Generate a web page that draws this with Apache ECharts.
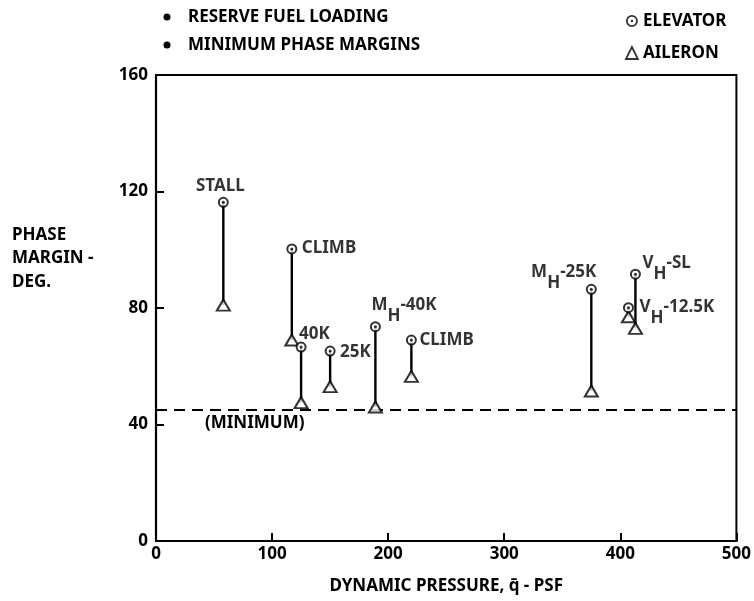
<!DOCTYPE html>
<html>
<head>
<meta charset="utf-8">
<script src="https://cdn.jsdelivr.net/npm/echarts@6/dist/echarts.min.js"></script>
<style>html,body{margin:0;padding:0;background:#fff}#c{width:754px;height:601px}</style>
</head>
<body>
<div id="c"></div>
<script>
// ---- data ----
const caseLabels = ['{p|STALL}', '{p|CLIMB}', '{p|40K}', '{p|25K}', '{t|M}{s|H}{t|-40K}', '{p|CLIMB}', '{t|M}{s|H}{t|-25K}', '{t|V}{s|H}{t|-SL}', '{t|V}{s|H}{t|-12.5K}'];
const dynamicPressure = [58, 117, 125, 150, 189, 220, 375, 413, 407];
const elevatorMargin = [116.3, 100.3, 66.6, 65.2, 73.6, 69.0, 86.4, 91.6, 80.1];
const aileronMargin = [81, 69, 47.5, 53, 46, 56.5, 51.5, 73, 77];
const minimumMargin = 45;
const xRange = [0, 500];
const yRange = [0, 160];
const xStep = 100;
const yStep = 40;
const notes = ['RESERVE FUEL LOADING', 'MINIMUM PHASE MARGINS'];
const seriesNames = ['ELEVATOR', 'AILERON'];
const minimumText = '(MINIMUM)';
const xTitle = 'DYNAMIC PRESSURE, q\u0304 - PSF';
const yTitle = 'PHASE\nMARGIN -\nDEG.';

// ---- styling / layout ----
const FONT = '"Noto Sans", "Open Sans", sans-serif';
const INK = '#000';
const FS = 17;
const labelPlace = [
  {align: 'center', offset: [-3, -16]},
  {align: 'left', offset: [10, -1]},
  {align: 'left', offset: [-2, -13]},
  {align: 'left', offset: [10, 1]},
  {align: 'left', offset: [-4, -15.5]},
  {align: 'left', offset: [8, 0]},
  {align: 'right', offset: [5, -11.5]},
  {align: 'left', offset: [7, -5.5]},
  {align: 'left', offset: [11, 4.5]}
];
const minimumLabelAt = 85;
const ringPath = 'path://M10 0 A10 10 0 1 1 9.99 0 Z M10 3 A7 7 0 1 0 10.01 3 Z M10 8 A2 2 0 1 1 9.99 8 Z';

const baseText = {fontFamily: FONT, fontSize: FS, fontWeight: 'bold', color: INK, textBorderWidth: 0, textShadowBlur: 0};
const rich = {
  p: Object.assign({}, baseText, {lineHeight: 16}),
  t: Object.assign({}, baseText, {lineHeight: 16, padding: [0, 0, 11, 0]}),
  s: Object.assign({}, baseText, {lineHeight: 16, padding: [11, 0, 0, 0]})
};

const chart = echarts.init(document.getElementById('c'), null, {renderer: 'canvas'});

const elevatorData = dynamicPressure.map((q, i) => ({
  value: [q, elevatorMargin[i]],
  label: Object.assign({}, baseText, {
    show: true,
    position: 'inside',
    formatter: caseLabels[i],
    align: labelPlace[i].align,
    verticalAlign: 'middle',
    offset: labelPlace[i].offset,
    rich: rich
  })
}));

const option = {
  animation: false,
  backgroundColor: '#fff',
  textStyle: {fontFamily: FONT},
  grid: {left: 156, right: 14, top: 75, bottom: 60, show: true, borderColor: INK, borderWidth: 2, backgroundColor: 'transparent'},
  legend: {
    orient: 'vertical',
    left: 620,
    top: 7,
    itemWidth: 12,
    itemHeight: 12,
    itemGap: 14,
    selectedMode: false,
    textStyle: {fontFamily: FONT, fontSize: FS, fontWeight: 'bold', color: INK, lineHeight: 18},
    data: [
      {name: seriesNames[0], icon: ringPath, itemStyle: {color: INK, borderWidth: 0}},
      {name: seriesNames[1], icon: 'triangle', itemStyle: {color: '#fff', borderColor: INK, borderWidth: 1.8}}
    ]
  },
  xAxis: {
    type: 'value',
    min: xRange[0], max: xRange[1], interval: xStep,
    name: xTitle,
    nameLocation: 'middle',
    nameGap: 37,
    nameTextStyle: {fontFamily: FONT, fontSize: FS, fontWeight: 'bold', color: INK},
    axisLine: {show: true, lineStyle: {color: INK, width: 2.2}},
    axisTick: {show: true, inside: true, length: 8, lineStyle: {color: INK, width: 2}},
    axisLabel: {fontFamily: FONT, fontSize: FS, fontWeight: 'bold', color: INK, margin: 5},
    splitLine: {show: false}
  },
  yAxis: {
    type: 'value',
    min: yRange[0], max: yRange[1], interval: yStep,
    axisLine: {show: true, lineStyle: {color: INK, width: 2.2}},
    axisTick: {show: true, inside: true, length: 8, lineStyle: {color: INK, width: 2}},
    axisLabel: {fontFamily: FONT, fontSize: FS, fontWeight: 'bold', color: INK, margin: 8},
    splitLine: {show: false}
  },
  graphic: [
    {type: 'circle', shape: {cx: 167, cy: 17, r: 3.5}, style: {fill: INK}},
    {type: 'circle', shape: {cx: 167, cy: 45, r: 3.5}, style: {fill: INK}},
    {type: 'text', x: 188, y: 17, style: {text: notes[0], fontFamily: FONT, fontSize: FS, fontWeight: 'bold', fill: INK, verticalAlign: 'middle'}},
    {type: 'text', x: 188, y: 45, style: {text: notes[1], fontFamily: FONT, fontSize: FS, fontWeight: 'bold', fill: INK, verticalAlign: 'middle'}},
    {type: 'text', x: 12, y: 223, style: {text: yTitle, fontFamily: FONT, fontSize: FS, fontWeight: 'bold', fill: INK, lineHeight: 23.5}}
  ],
  series: [
    {
      name: 'minimum',
      type: 'line',
      data: [[xRange[0], minimumMargin], [xRange[1], minimumMargin]],
      symbol: 'none',
      silent: true,
      z: 1,
      lineStyle: {color: INK, width: 2, type: [11, 7]},
      markPoint: {
        symbol: 'circle',
        symbolSize: 1,
        itemStyle: {color: 'rgba(0,0,0,0)'},
        label: Object.assign({}, baseText, {show: true, position: 'inside', offset: [0, 13], formatter: minimumText}),
        data: [{coord: [minimumLabelAt, minimumMargin]}]
      }
    },
    {
      name: 'links',
      type: 'custom',
      silent: true,
      z: 2,
      data: dynamicPressure.map((q, i) => [q, elevatorMargin[i], aileronMargin[i]]),
      encode: {x: 0, y: [1, 2]},
      renderItem: function (params, api) {
        const a = api.coord([api.value(0), api.value(1)]);
        const b = api.coord([api.value(0), api.value(2)]);
        return {type: 'line', shape: {x1: a[0], y1: a[1], x2: b[0], y2: b[1]}, style: {stroke: INK, lineWidth: 2.4}};
      }
    },
    {
      name: seriesNames[1],
      type: 'scatter',
      z: 3,
      symbol: 'triangle',
      symbolSize: [13, 11],
      itemStyle: {color: '#fff', borderColor: INK, borderWidth: 2},
      data: dynamicPressure.map((q, i) => [q, aileronMargin[i]])
    },
    {
      name: seriesNames[0],
      type: 'scatter',
      z: 4,
      symbol: 'circle',
      symbolSize: 9,
      itemStyle: {color: '#fff', borderColor: INK, borderWidth: 2},
      data: elevatorData
    },
    {
      name: 'elevatorDot',
      type: 'scatter',
      z: 5,
      silent: true,
      symbol: 'circle',
      symbolSize: 3,
      itemStyle: {color: INK},
      data: dynamicPressure.map((q, i) => [q, elevatorMargin[i]])
    }
  ]
};
chart.setOption(option);
</script>
</body>
</html>
